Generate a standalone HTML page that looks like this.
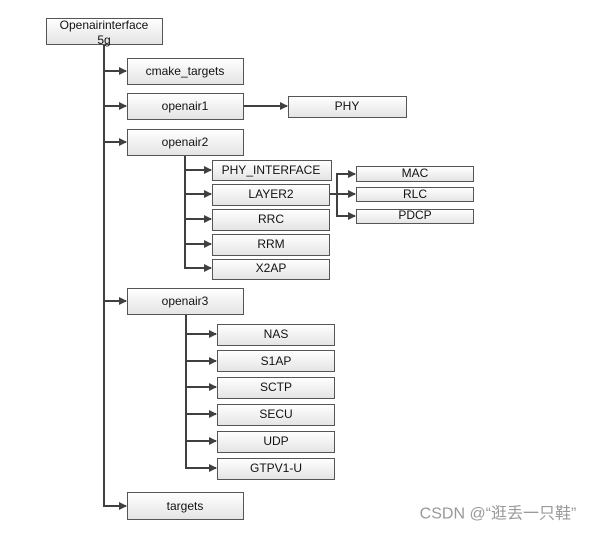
<!DOCTYPE html>
<html><head><meta charset="utf-8"><style>
html,body{margin:0;padding:0;background:#fff;width:606px;height:534px;overflow:hidden}
svg text{font-family:"Liberation Sans","Noto Sans CJK SC",sans-serif;font-size:12px;fill:#111;text-anchor:middle;dominant-baseline:central}
</style></head><body>
<svg width="606" height="534" xmlns="http://www.w3.org/2000/svg">
<defs>
<linearGradient id="g" x1="0" y1="0" x2="0" y2="1"><stop offset="0" stop-color="#ffffff"/><stop offset="1" stop-color="#e4e4e4"/></linearGradient>
<marker id="a" markerWidth="8" markerHeight="8" refX="7" refY="4" orient="auto" markerUnits="userSpaceOnUse"><path d="M0,0 L8,4 L0,8 z" fill="#404040"/></marker>
</defs>
<g stroke="#404040" stroke-width="2" fill="none">
<line x1="104" y1="44" x2="104" y2="507"/>
<line x1="104" y1="71" x2="126" y2="71" marker-end="url(#a)"/>
<line x1="104" y1="106" x2="126" y2="106" marker-end="url(#a)"/>
<line x1="104" y1="142" x2="126" y2="142" marker-end="url(#a)"/>
<line x1="104" y1="301" x2="126" y2="301" marker-end="url(#a)"/>
<line x1="104" y1="506" x2="126" y2="506" marker-end="url(#a)"/>
<line x1="243" y1="106" x2="287" y2="106" marker-end="url(#a)"/>
<line x1="185" y1="155" x2="185" y2="269"/>
<line x1="185" y1="170" x2="211" y2="170" marker-end="url(#a)"/>
<line x1="185" y1="194" x2="211" y2="194" marker-end="url(#a)"/>
<line x1="185" y1="219" x2="211" y2="219" marker-end="url(#a)"/>
<line x1="185" y1="244" x2="211" y2="244" marker-end="url(#a)"/>
<line x1="185" y1="268" x2="211" y2="268" marker-end="url(#a)"/>
<line x1="329" y1="194" x2="337" y2="194"/>
<line x1="337" y1="173" x2="337" y2="217"/>
<line x1="337" y1="174" x2="355" y2="174" marker-end="url(#a)"/>
<line x1="337" y1="194" x2="355" y2="194" marker-end="url(#a)"/>
<line x1="337" y1="216" x2="355" y2="216" marker-end="url(#a)"/>
<line x1="186" y1="314" x2="186" y2="469"/>
<line x1="186" y1="334" x2="216" y2="334" marker-end="url(#a)"/>
<line x1="186" y1="361" x2="216" y2="361" marker-end="url(#a)"/>
<line x1="186" y1="387" x2="216" y2="387" marker-end="url(#a)"/>
<line x1="186" y1="414" x2="216" y2="414" marker-end="url(#a)"/>
<line x1="186" y1="441" x2="216" y2="441" marker-end="url(#a)"/>
<line x1="186" y1="468" x2="216" y2="468" marker-end="url(#a)"/>
</g>
<g fill="url(#g)" stroke="#555" stroke-width="1">
<rect x="46.5" y="18.5" width="116" height="26"/>
<rect x="127.5" y="58.5" width="116" height="26"/>
<rect x="127.5" y="93.5" width="116" height="26"/>
<rect x="288.5" y="96.5" width="118" height="21"/>
<rect x="127.5" y="129.5" width="116" height="26"/>
<rect x="212.5" y="160.5" width="119" height="20"/>
<rect x="212.5" y="184.5" width="117" height="21"/>
<rect x="212.5" y="209.5" width="117" height="21"/>
<rect x="212.5" y="234.5" width="117" height="21"/>
<rect x="212.5" y="259.5" width="117" height="20"/>
<rect x="356.5" y="166.5" width="117" height="15"/>
<rect x="356.5" y="187.5" width="117" height="14"/>
<rect x="356.5" y="209.5" width="117" height="14"/>
<rect x="127.5" y="288.5" width="116" height="26"/>
<rect x="217.5" y="324.5" width="117" height="21"/>
<rect x="217.5" y="350.5" width="117" height="21"/>
<rect x="217.5" y="377.5" width="117" height="21"/>
<rect x="217.5" y="404.5" width="117" height="21"/>
<rect x="217.5" y="431.5" width="117" height="21"/>
<rect x="217.5" y="458.5" width="117" height="21"/>
<rect x="127.5" y="492.5" width="116" height="27"/>
</g>
<text x="104" y="25">Openairinterface</text>
<text x="104" y="40">5g</text>
<text x="185" y="71">cmake_targets</text>
<text x="185" y="106">openair1</text>
<text x="347" y="106">PHY</text>
<text x="185" y="142">openair2</text>
<text x="271" y="170">PHY_INTERFACE</text>
<text x="271" y="194">LAYER2</text>
<text x="271" y="219">RRC</text>
<text x="271" y="244">RRM</text>
<text x="271" y="268">X2AP</text>
<text x="415" y="173">MAC</text>
<text x="415" y="194">RLC</text>
<text x="415" y="215">PDCP</text>
<text x="185" y="301">openair3</text>
<text x="276" y="334">NAS</text>
<text x="276" y="361">S1AP</text>
<text x="276" y="387">SCTP</text>
<text x="276" y="414">SECU</text>
<text x="276" y="441">UDP</text>
<text x="276" y="468">GTPV1-U</text>
<text x="185" y="506">targets</text>
<text x="498" y="514" style="font-size:16px;fill:#999">CSDN @“逛丢一只鞋”</text>
</svg>
</body></html>
